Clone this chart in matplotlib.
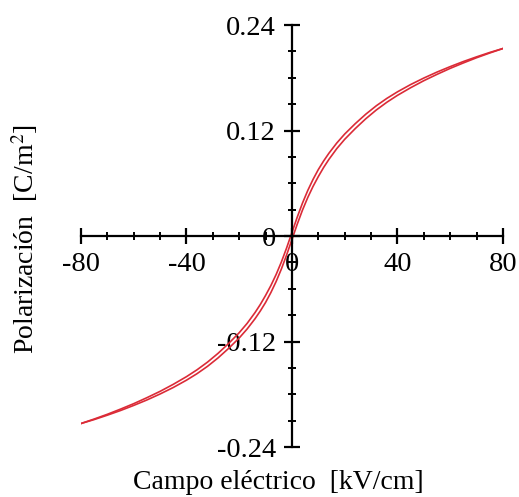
import numpy as np
import matplotlib
matplotlib.use("Agg")
import matplotlib.pyplot as plt
from matplotlib.ticker import MultipleLocator

plt.rcParams['font.family'] = ['Liberation Serif', 'DejaVu Serif']
plt.rcParams['mathtext.fontset'] = 'stix'

# electric field [kV/cm]
campo = [-80, -75, -70, -65, -60, -55, -50, -45, -40, -36, -32, -28, -24, -20,
         -17, -14, -12, -10, -8, -6, -4, -2, 0, 2, 4, 6, 8, 10, 12, 14, 17,
         20, 24, 28, 32, 36, 40, 45, 50, 55, 60, 65, 70, 75, 80]
# polarization, upper (descending) branch [C/m^2]
pol_sup = [-0.2133, -0.2082, -0.2028, -0.1969, -0.1907, -0.1839, -0.1767,
           -0.1687, -0.1600, -0.1522, -0.1434, -0.1334, -0.1222, -0.1100,
           -0.0994, -0.0871, -0.0779, -0.0676, -0.0564, -0.0438, -0.0295,
           -0.0134, 0.0040, 0.0214, 0.0375, 0.0518, 0.0644, 0.0756, 0.0853,
           0.0941, 0.1058, 0.1160, 0.1278, 0.1386, 0.1482, 0.1566, 0.1640,
           0.1723, 0.1797, 0.1865, 0.1927, 0.1985, 0.2038, 0.2088, 0.2133]
# lower (ascending) branch
pol_inf = [-0.2133, -0.2088, -0.2038, -0.1985, -0.1927, -0.1865, -0.1797,
           -0.1723, -0.1640, -0.1566, -0.1482, -0.1386, -0.1278, -0.1160,
           -0.1058, -0.0941, -0.0853, -0.0756, -0.0644, -0.0518, -0.0375,
           -0.0214, -0.0040, 0.0134, 0.0295, 0.0438, 0.0564, 0.0676, 0.0779,
           0.0871, 0.0994, 0.1100, 0.1222, 0.1334, 0.1434, 0.1522, 0.1600,
           0.1687, 0.1767, 0.1839, 0.1907, 0.1969, 0.2028, 0.2082, 0.2133]

x_ticks = [-80, -40, 0, 40, 80]
x_labels = ['-80', '-40', '0', '40', '80']
y_ticks = [-0.24, -0.12, 0, 0.12, 0.24]
y_labels = ['-0.24', '-0.12', '0', '0.12', '0.24']

fig = plt.figure(figsize=(5.19, 4.97), dpi=100)
ax = fig.add_axes([0.156, 0.1006, 0.813, 0.849])

rojo = '#db2b37'
ax.plot(campo, pol_sup, color=rojo, lw=1.2)
ax.plot(campo, pol_inf, color=rojo, lw=1.2)

ax.set_xlim(-80, 80)
ax.set_ylim(-0.24, 0.24)

for s in ['top', 'right']:
    ax.spines[s].set_visible(False)
ax.spines['left'].set_position(('data', 0))
ax.spines['bottom'].set_position(('data', 0))
for s in ['left', 'bottom']:
    ax.spines[s].set_linewidth(1.6)

ax.set_xticks(x_ticks)
ax.set_xticklabels(x_labels)
ax.set_yticks(y_ticks)
ax.set_yticklabels(y_labels)
ax.xaxis.set_minor_locator(MultipleLocator(10))
ax.yaxis.set_minor_locator(MultipleLocator(0.03))

ax.tick_params(which='major', direction='inout', length=11, width=1.6,
               labelsize=20.5, pad=6)
ax.tick_params(which='minor', direction='inout', length=5.5, width=1.4)
ax.patch.set_visible(False)

fig.text(0.536, 0.030, 'Campo eléctrico  [kV/cm]', ha='center', va='center',
         fontsize=20)
fig.text(0.048, 0.52, 'Polarización  [C/m$^{2}$]', ha='center', va='center',
         rotation=90, fontsize=20)

fig.savefig('out.png', dpi=100)
